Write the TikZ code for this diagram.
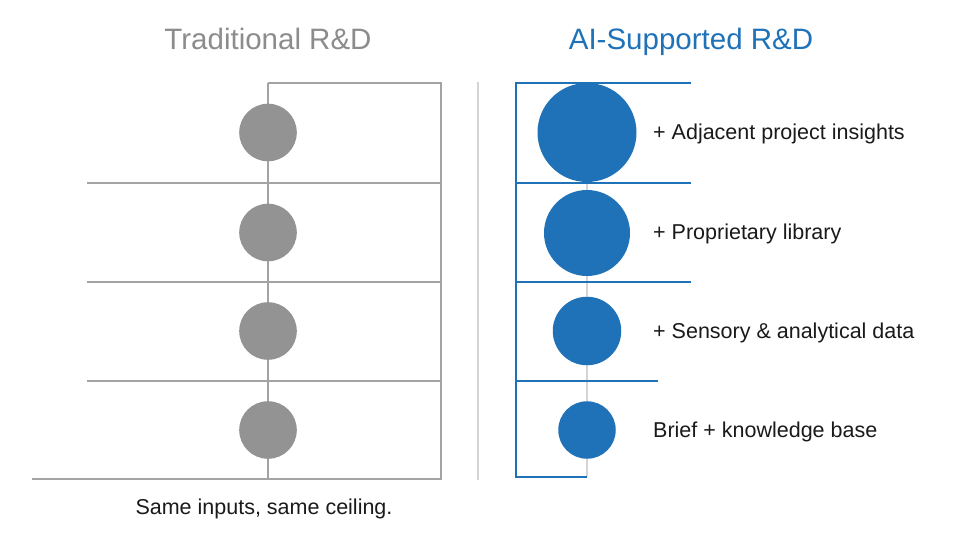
\documentclass[tikz,border=0pt]{standalone}
\usepackage{fontspec}
\setmainfont{Liberation Sans}
\definecolor{tgrey}{HTML}{8C8C8C}
\definecolor{cgrey}{HTML}{939393}
\definecolor{lgrey}{HTML}{A3A3A3}
\definecolor{sgrey}{HTML}{D4D4D4}
\definecolor{aiblue}{HTML}{1F72B8}
\definecolor{txt}{HTML}{1A1A1A}
\tikzset{
  gline/.style={draw=lgrey, line width=1.6pt},
  bline/.style={draw=aiblue, line width=1.6pt},
  gdot/.style={circle, fill=cgrey, inner sep=0pt, minimum size=57.6pt},
  bdot/.style={circle, fill=aiblue, inner sep=0pt},
  title/.style={font=\fontsize{29.5}{32}\selectfont, anchor=base, inner sep=0pt},
  lbl/.style={font=\fontsize{21.5}{24}\selectfont, text=txt, anchor=base west, inner sep=0pt}
}
\begin{document}
\begin{tikzpicture}[x=1pt,y=-1pt]
\useasboundingbox (0,0) rectangle (971,537);
\fill[white] (0,0) rectangle (971,537);
% titles
\node[title, text=tgrey] (t1) at (268,50) {Traditional R\&D};
\node[title, text=aiblue] (t2) at (691,50) {AI-Supported R\&D};
% separator
\coordinate (s1) at (478,82);
\coordinate (s2) at (478,480);
\draw[sgrey, line width=1.2pt] (s1) -- (s2);
% left panel
\coordinate (la) at (268,83);
\coordinate (lb) at (441,83);
\coordinate (lc) at (441,479);
\coordinate (ld) at (268,479);
\coordinate (le) at (32,479);
\coordinate (h1a) at (87,183);
\coordinate (h1b) at (441,183);
\coordinate (h2a) at (87,282);
\coordinate (h2b) at (441,282);
\coordinate (h3a) at (87,381);
\coordinate (h3b) at (441,381);
\draw[gline] (la) -- (ld);
\draw[gline] (la) -- (lb) -- (lc) -- (le);
\draw[gline] (h1a) -- (h1b);
\draw[gline] (h2a) -- (h2b);
\draw[gline] (h3a) -- (h3b);
\node[gdot] (g1) at (268,132.5) {};
\node[gdot] (g2) at (268,232.5) {};
\node[gdot] (g3) at (268,331) {};
\node[gdot] (g4) at (268,430) {};
\node[font=\fontsize{21.5}{24}\selectfont, text=txt, anchor=base, inner sep=0pt] (cap) at (264,514) {Same inputs, same ceiling.};
% right panel
\coordinate (rc) at (587,180);
\coordinate (rd) at (587,477);
\draw[sgrey, line width=1.2pt] (rc) -- (rd);
\coordinate (ra) at (691,83);
\coordinate (rb) at (516,83);
\coordinate (re) at (516,477);
\draw[bline] (ra) -- (rb) -- (re) -- (rd);
\coordinate (r1a) at (516,183);
\coordinate (r1b) at (691,183);
\coordinate (r2a) at (516,282);
\coordinate (r2b) at (691,282);
\coordinate (r3a) at (516,381);
\coordinate (r3b) at (658,381);
\draw[bline] (r1a) -- (r1b);
\draw[bline] (r2a) -- (r2b);
\draw[bline] (r3a) -- (r3b);
\node[bdot, minimum size=99pt] (b1) at (587,132.5) {};
\node[bdot, minimum size=86pt] (b2) at (587,233) {};
\node[bdot, minimum size=68.5pt] (b3) at (587,331) {};
\node[bdot, minimum size=57.5pt] (b4) at (587,430) {};
\node[lbl] (l1) at (653,139.5) {+ Adjacent project insights};
\node[lbl] (l2) at (653,239.5) {+ Proprietary library};
\node[lbl] (l3) at (653,338.5) {+ Sensory \& analytical data};
\node[lbl] (l4) at (653,437.5) {Brief + knowledge base};
\end{tikzpicture}
\end{document}
